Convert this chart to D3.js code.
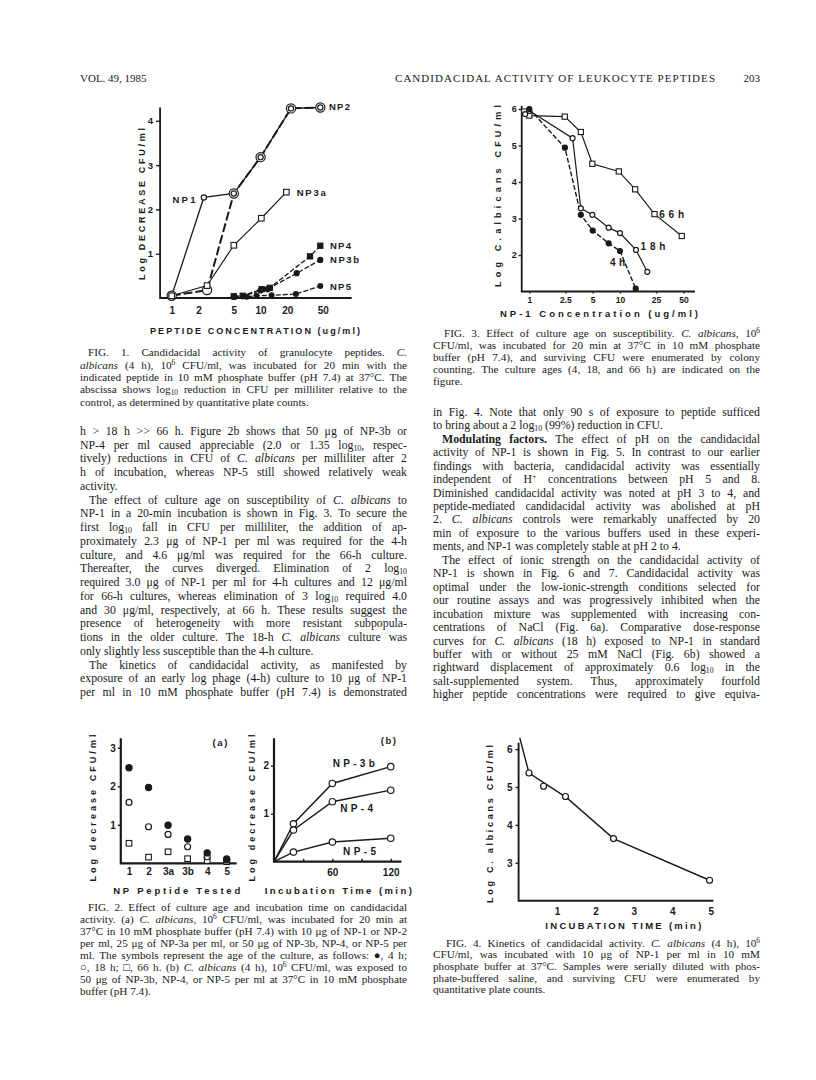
<!DOCTYPE html>
<html>
<head>
<meta charset="utf-8">
<script src="https://cdn.jsdelivr.net/npm/d3@7"></script>
<style>
  body { margin: 0; background: #fff; }
  svg text { fill: #1a1a1a; }
  .serif { font-family: "Liberation Serif", "Times New Roman", serif; }
  .sans { font-family: "Liberation Sans", Arial, sans-serif; font-weight: bold; }
</style>
</head>
<body>
<svg id="page" width="816" height="1080"></svg>
<script>
// ---------------- DATA ----------------
// Fig 1: log decrease vs peptide concentration (ug/ml)
const fig1XTicks = [1, 2, 5, 10, 20, 50];
const fig1YTicks = [1, 2, 3, 4];
const np1 = [[1, 0.05], [2.3, 2.27], [5, 2.36], [10, 3.18], [22, 4.28], [47, 4.3]];
const np2 = [[1, 0.05], [2.5, 0.18], [5, 2.36], [10, 3.18], [22, 4.28], [47, 4.3]];
const np3a = [[1, 0.05], [2.5, 0.28], [5, 1.19], [10.2, 1.8], [19.5, 2.39]];
const np4 = [[5, 0.04], [6.3, 0.05], [10.3, 0.2], [12.7, 0.23], [36, 0.94], [47, 1.18]];
const np3b = [[5, 0.03], [6.3, 0.04], [10, 0.17], [12, 0.2], [25.5, 0.56], [47, 0.86]];
const np5 = [[5, 0.02], [7, 0.03], [9, 0.05], [13.3, 0.06], [25, 0.09], [47, 0.27]];

// Fig 3: log C. albicans CFU/ml vs NP-1 concentration
const fig3XTicks = [1, 2.5, 5, 10, 25, 50];
const fig3YTicks = [2, 3, 4, 5, 6];
const h66 = [[0.88, 5.93], [1, 5.82], [2.46, 5.79], [3.7, 5.37], [4.95, 4.5], [9.7, 4.29], [14.7, 3.8], [24, 3.12], [48, 2.52]];
const h18 = [[0.9, 5.86], [1, 5.95], [3.0, 5.2], [3.7, 3.28], [4.95, 3.1], [7.5, 2.75], [10, 2.6], [15, 2.14], [20, 1.54]];
const h4 = [[1, 6.0], [2.47, 4.94], [3.7, 3.1], [5, 2.67], [7.5, 2.32], [10, 2.11], [14.9, 1.08]];

// Fig 2a: log decrease per peptide, by culture age
const npCats = ['1', '2', '3a', '3b', '4', '5'];
const age4h = [2.48, 1.97, 0.99, 0.63, 0.27, 0.11];
const age18h = [1.58, 0.95, 0.75, 0.43, 0.17, 0.08];
const age66h = [0.52, 0.16, 0.3, 0.12, 0.07, 0.04];
const fig2aYTicks = [1, 2, 3];

// Fig 2b: log decrease vs incubation time (min)
const fig2bXTicks = [30, 60, 90, 120];
const fig2bXLabels = [60, 120];
const fig2bYTicks = [1, 2];
const time3b = [[0, 0], [20, 0.79], [60, 1.63], [120, 1.98]];
const time4 = [[0, 0], [20, 0.66], [60, 1.25], [120, 1.49]];
const time5 = [[0, 0], [20, 0.2], [60, 0.41], [120, 0.49]];

// Fig 4: kinetics, log CFU vs incubation time (min)
const fig4XTicks = [1, 2, 3, 4, 5];
const fig4YTicks = [3, 4, 5, 6];
const killPts = [[0.27, 5.37], [0.65, 5.02], [1.22, 4.75], [2.47, 3.64], [4.97, 2.54]];
const killCurve = [[0.03, 6.3], [0.27, 5.37], [1.25, 4.72], [2.47, 3.64], [4.97, 2.54]];

// ---------------- TEXT ----------------
const fig1Caption = [
  ">FIG. 1. Candidacidal activity of granulocyte peptides. ~C.~",
  "~albicans~ (4 h), 10^{6} CFU/ml, was incubated for 20 min with the",
  "indicated peptide in 10 mM phosphate buffer (pH 7.4) at 37°C. The",
  "abscissa shows log_{10} reduction in CFU per milliliter relative to the",
  "control, as determined by quantitative plate counts.¶"
];
const leftBody = [
  "h > 18 h >> 66 h. Figure 2b shows that 50 μg of NP-3b or",
  "NP-4 per ml caused appreciable (2.0 or 1.35 log_{10}, respec-",
  "tively) reductions in CFU of ~C.~ ~albicans~ per milliliter after 2",
  "h of incubation, whereas NP-5 still showed relatively weak",
  "activity.¶",
  ">The effect of culture age on susceptibility of ~C.~ ~albicans~ to",
  "NP-1 in a 20-min incubation is shown in Fig. 3. To secure the",
  "first log_{10} fall in CFU per milliliter, the addition of ap-",
  "proximately 2.3 μg of NP-1 per ml was required for the 4-h",
  "culture, and 4.6 μg/ml was required for the 66-h culture.",
  "Thereafter, the curves diverged. Elimination of 2 log_{10}",
  "required 3.0 μg of NP-1 per ml for 4-h cultures and 12 μg/ml",
  "for 66-h cultures, whereas elimination of 3 log_{10} required 4.0",
  "and 30 μg/ml, respectively, at 66 h. These results suggest the",
  "presence of heterogeneity with more resistant subpopula-",
  "tions in the older culture. The 18-h ~C.~ ~albicans~ culture was",
  "only slightly less susceptible than the 4-h culture.¶",
  ">The kinetics of candidacidal activity, as manifested by",
  "exposure of an early log phage (4-h) culture to 10 μg of NP-1",
  "per ml in 10 mM phosphate buffer (pH 7.4) is demonstrated"
];
const fig3Caption = [
  ">FIG. 3. Effect of culture age on susceptibility. ~C.~ ~albicans~, 10^{6}",
  "CFU/ml, was incubated for 20 min at 37°C in 10 mM phosphate",
  "buffer (pH 7.4), and surviving CFU were enumerated by colony",
  "counting. The culture ages (4, 18, and 66 h) are indicated on the",
  "figure.¶"
];
const rightBody = [
  "in Fig. 4. Note that only 90 s of exposure to peptide sufficed",
  "to bring about a 2 log_{10} (99%) reduction in CFU.¶",
  ">*Modulating factors.* The effect of pH on the candidacidal",
  "activity of NP-1 is shown in Fig. 5. In contrast to our earlier",
  "findings with bacteria, candidacidal activity was essentially",
  "independent of H^{+} concentrations between pH 5 and 8.",
  "Diminished candidacidal activity was noted at pH 3 to 4, and",
  "peptide-mediated candidacidal activity was abolished at pH",
  "2. ~C.~ ~albicans~ controls were remarkably unaffected by 20",
  "min of exposure to the various buffers used in these experi-",
  "ments, and NP-1 was completely stable at pH 2 to 4.¶",
  ">The effect of ionic strength on the candidacidal activity of",
  "NP-1 is shown in Fig. 6 and 7. Candidacidal activity was",
  "optimal under the low-ionic-strength conditions selected for",
  "our routine assays and was progressively inhibited when the",
  "incubation mixture was supplemented with increasing con-",
  "centrations of NaCl (Fig. 6a). Comparative dose-response",
  "curves for ~C.~ ~albicans~ (18 h) exposed to NP-1 in standard",
  "buffer with or without 25 mM NaCl (Fig. 6b) showed a",
  "rightward displacement of approximately 0.6 log_{10} in the",
  "salt-supplemented system. Thus, approximately fourfold",
  "higher peptide concentrations were required to give equiva-"
];
const fig2Caption = [
  ">FIG. 2. Effect of culture age and incubation time on candidacidal",
  "activity. (a) ~C.~ ~albicans~, 10^{6} CFU/ml, was incubated for 20 min at",
  "37°C in 10 mM phosphate buffer (pH 7.4) with 10 μg of NP-1 or NP-2",
  "per ml, 25 μg of NP-3a per ml, or 50 μg of NP-3b, NP-4, or NP-5 per",
  "ml. The symbols represent the age of the culture, as follows: ●, 4 h;",
  "○, 18 h; □, 66 h. (b) ~C.~ ~albicans~ (4 h), 10^{6} CFU/ml, was exposed to",
  "50 μg of NP-3b, NP-4, or NP-5 per ml at 37°C in 10 mM phosphate",
  "buffer (pH 7.4).¶"
];
const fig4Caption = [
  ">FIG. 4. Kinetics of candidacidal activity. ~C.~ ~albicans~ (4 h), 10^{6}",
  "CFU/ml, was incubated with 10 μg of NP-1 per ml in 10 mM",
  "phosphate buffer at 37°C. Samples were serially diluted with phos-",
  "phate-buffered saline, and surviving CFU were enumerated by",
  "quantitative plate counts.¶"
];

// ---------------- DRAWING ----------------
const ink = '#1a1a1a';
const svg = d3.select('#page');
svg.append('rect').attr('width', 816).attr('height', 1080).attr('fill', '#fff');
const intFmt = d3.format('d');

// one word -> one <text>, with italic (~), bold (*), sub _{..}, sup ^{..}
function fillWord(t, w, st) {
  const parts = w.split(/(~|\*|_\{[^}]*\}|\^\{[^}]*\})/).filter(p => p !== '');
  let off = 0;
  parts.forEach(p => {
    if (p === '~') { st.it = !st.it; return; }
    if (p === '*') { st.bd = !st.bd; return; }
    let txt = p, shift = 0, small = false;
    if (p.startsWith('_{')) { txt = p.slice(2, -1); shift = 2; small = true; }
    else if (p.startsWith('^{')) { txt = p.slice(2, -1); shift = -4; small = true; }
    t.append('tspan').text(txt)
      .attr('dy', shift - off)
      .attr('font-style', st.it ? 'italic' : null)
      .attr('font-weight', st.bd ? 'bold' : null)
      .attr('font-size', small ? '0.66em' : null);
    off = shift;
  });
}

function textBlock(lines, cfg) {
  const g = svg.append('g').attr('class', 'serif');
  const st = {it: false, bd: false};
  const minGap = 2;
  lines.forEach((raw, i) => {
    let s = raw, indent = 0, just = true;
    if (s.startsWith('>')) { indent = cfg.indent; s = s.slice(1); }
    if (s.endsWith('¶')) { just = false; s = s.slice(0, -1); }
    const words = s.split(' ');
    const y = cfg.y0 + i * cfg.lh + cfg.size * 0.33;
    const left = cfg.x0 + indent, avail = cfg.x1 - left;
    const st0 = {it: st.it, bd: st.bd};
    const build = size => {
      g.selectAll('.ln' + i).remove();
      st.it = st0.it; st.bd = st0.bd;
      return words.map(w => {
        const t = g.append('text').attr('class', 'ln' + i).attr('y', y).attr('font-size', size);
        fillWord(t, w, st);
        return t;
      });
    };
    let nodes = build(cfg.size);
    let widths = nodes.map(n => n.node().getComputedTextLength());
    const need = d3.sum(widths) + minGap * (words.length - 1);
    if (need > avail) {
      // line too long for the column: shrink it a touch
      nodes = build(cfg.size * (avail - minGap * (words.length - 1)) / d3.sum(widths));
      widths = nodes.map(n => n.node().getComputedTextLength());
    }
    let gap = cfg.size * 0.25;
    if (just && words.length > 1) gap = (avail - d3.sum(widths)) / (words.length - 1);
    let x = left;
    nodes.forEach((n, k) => { n.attr('x', x); x += widths[k] + gap; });
  });
}

function label(x, y, txt, size, len, rot, anchor) {
  const t = svg.append('text').attr('class', 'sans')
    .attr('font-size', size).attr('text-anchor', anchor || 'middle')
    .attr('dy', '0.35em').text(txt);
  if (len) t.attr('textLength', len).attr('lengthAdjust', 'spacing');
  if (rot) t.attr('transform', `translate(${x},${y}) rotate(-90)`);
  else t.attr('x', x).attr('y', y);
  return t;
}

function frame(x0, yTop, yBot, xRight, w) {
  svg.append('path')
    .attr('d', `M${x0},${yTop}L${x0},${yBot}L${xRight},${yBot}`)
    .attr('fill', 'none').attr('stroke', ink).attr('stroke-width', w);
}

function styleAxis(g, size) {
  g.attr('font-family', '"Liberation Sans", Arial, sans-serif')
    .attr('font-size', size).attr('font-weight', 'bold');
  g.select('.domain').remove();
  g.selectAll('line').attr('stroke', ink).attr('stroke-width', 1.4);
  g.selectAll('text').attr('fill', ink);
}

function series(pts, sx, sy, opt) {
  const line = d3.line().x(d => sx(d[0])).y(d => sy(d[1]));
  svg.append('path').datum(pts).attr('d', line)
    .attr('fill', 'none').attr('stroke', ink)
    .attr('stroke-width', opt.w || 1.3)
    .attr('stroke-dasharray', opt.dash || null);
}

function marks(pts, sx, sy, kind, size) {
  const filled = kind.endsWith('fill');
  const g = svg.append('g');
  if (kind.startsWith('circle')) {
    g.selectAll('circle').data(pts).join('circle')
      .attr('cx', d => sx(d[0])).attr('cy', d => sy(d[1])).attr('r', size)
      .attr('fill', filled ? ink : '#fff').attr('stroke', ink).attr('stroke-width', 1.2);
  } else {
    g.selectAll('rect').data(pts).join('rect')
      .attr('x', d => sx(d[0]) - size).attr('y', d => sy(d[1]) - size)
      .attr('width', size * 2).attr('height', size * 2)
      .attr('fill', filled ? ink : '#fff').attr('stroke', ink).attr('stroke-width', 1.1);
  }
}

// ---- header ----
svg.append('text').attr('class', 'serif').attr('x', 80).attr('y', 82).attr('font-size', 11).text('VOL. 49, 1985');
svg.append('text').attr('class', 'serif').attr('x', 395).attr('y', 82).attr('font-size', 11)
  .attr('textLength', 320).attr('lengthAdjust', 'spacing').text('CANDIDACIDAL ACTIVITY OF LEUKOCYTE PEPTIDES');
svg.append('text').attr('class', 'serif').attr('x', 760).attr('y', 82).attr('font-size', 11)
  .attr('text-anchor', 'end').text('203');

// ---- Fig 1 ----
const f1x = d3.scaleLog().domain([1, 50]).range([171.7, 322.7]);
const f1y = d3.scaleLinear().domain([0, 4]).range([298, 120.8]);
frame(f1x(0.74), f1y(4.3), f1y(0), f1x(106), 1.8);
styleAxis(svg.append('g').attr('transform', `translate(${f1x(0.74)},0)`)
  .call(d3.axisLeft(f1y).tickValues(fig1YTicks).tickFormat(intFmt).tickSize(4).tickPadding(3)), 9.5);
styleAxis(svg.append('g').attr('transform', `translate(0,${f1y(0)})`)
  .call(d3.axisBottom(f1x).tickValues(fig1XTicks).tickFormat(intFmt).tickSize(0).tickPadding(9)), 10);

series(np3a, f1x, f1y, {w: 1.2});
series(np1, f1x, f1y, {w: 1.3});
series(np2, f1x, f1y, {w: 2, dash: '9,3'});
series(np4, f1x, f1y, {w: 1.3, dash: '5,2'});
series(np3b, f1x, f1y, {w: 1.3, dash: '5,2'});
series(np5, f1x, f1y, {w: 1.3, dash: '5,2'});
marks(np2, f1x, f1y, 'circle-open', 4.6);
marks(np1, f1x, f1y, 'circle-open', 2.6);
marks(np3a, f1x, f1y, 'square-open', 2.8);
marks(np4, f1x, f1y, 'square-fill', 2.6);
marks(np3b, f1x, f1y, 'circle-fill', 2.5);
marks(np5, f1x, f1y, 'circle-fill', 2.4);

label(f1x(58.8), f1y(4.31), 'NP2', 9.5, 21, false, 'start');
label(f1x(1.375), f1y(2.23), 'NP1', 9.5, 23);
label(f1x(25.5), f1y(2.38), 'NP3a', 9.5, 29, false, 'start');
label(f1x(60.4), f1y(1.17), 'NP4', 9.5, 21, false, 'start');
label(f1x(60.4), f1y(0.86), 'NP3b', 9.5, 29, false, 'start');
label(f1x(60.4), f1y(0.25), 'NP5', 9.5, 21, false, 'start');
label(142, 204, 'Log DECREASE CFU/ml', 9, 152, true);
label(255, 331, 'PEPTIDE CONCENTRATION (ug/ml)', 9, 210);

textBlock(fig1Caption, {x0: 80, x1: 407, y0: 352.5, lh: 12.4, size: 11.2, indent: 8});
textBlock(leftBody, {x0: 80, x1: 407, y0: 431, lh: 13.75, size: 11.8, indent: 9});

// ---- Fig 3 ----
const f3x = d3.scaleLog().domain([1, 50]).range([529.3, 683.4]);
const f3y = d3.scaleLinear().domain([1, 6]).range([291.5, 109]);
frame(f3x(0.825), f3y(6.08), f3y(1), f3x(67), 1.8);
styleAxis(svg.append('g').attr('transform', `translate(${f3x(0.825)},0)`)
  .call(d3.axisLeft(f3y).tickValues(fig3YTicks).tickFormat(intFmt).tickSize(3).tickPadding(2)), 9);
styleAxis(svg.append('g').attr('transform', `translate(0,${f3y(1)})`)
  .call(d3.axisBottom(f3x).tickValues(fig3XTicks).tickFormat(d => d).tickSize(2).tickPadding(3)), 8.5);

series(h66, f3x, f3y, {w: 1.2});
series(h18, f3x, f3y, {w: 1.2});
series(h4, f3x, f3y, {w: 1.4, dash: '5,2'});
marks(h66, f3x, f3y, 'square-open', 2.6);
marks(h18, f3x, f3y, 'circle-open', 2.5);
marks(h4, f3x, f3y, 'circle-fill', 2.5);
label(f3x(27), f3y(3.12), '66h', 10, 25, false, 'start');
label(f3x(16.8), f3y(2.23), '18h', 10, 25, false, 'start');
label(f3x(7.76), f3y(1.8), '4h', 10, 15, false, 'start');
label(498, 196, 'Log C.albicans CFU/ml', 9, 182, true);
label(599, 313.5, 'NP-1 Concentration (ug/ml)', 9.5, 198);

textBlock(fig3Caption, {x0: 433, x1: 760, y0: 333, lh: 12.2, size: 11.2, indent: 11});
textBlock(rightBody, {x0: 433, x1: 760, y0: 412, lh: 13.45, size: 11.8, indent: 9});

// ---- Fig 2a ----
const f2ax = d3.scalePoint().domain(npCats).range([129, 226.7]);
const f2ay = d3.scaleLinear().domain([0, 3]).range([863.3, 747.8]);
const f2aLeft = f2ax(npCats[0]) - f2ax.step() * 0.42;
frame(f2aLeft, f2ay(3.25), f2ay(0), f2ax(npCats[5]) + f2ax.step() * 0.51, 2.2);
styleAxis(svg.append('g').attr('transform', `translate(${f2aLeft},0)`)
  .call(d3.axisLeft(f2ay).tickValues(fig2aYTicks).tickFormat(intFmt).tickSize(3).tickPadding(2)), 10);
styleAxis(svg.append('g').attr('transform', `translate(0,${f2ay(0)})`)
  .call(d3.axisBottom(f2ax).tickSize(0).tickPadding(5)), 10);
const pair = arr => npCats.map((c, i) => [c, arr[i]]);
marks(pair(age66h), f2ax, f2ay, 'square-open', 2.8);
marks(pair(age18h), f2ax, f2ay, 'circle-open', 3);
marks(pair(age4h), f2ax, f2ay, 'circle-fill', 3.1);
label(220, 742.5, '(a)', 9.5, 15);
label(93, 808, 'Log decrease CFU/ml', 9, 147, true);
label(176.7, 891, 'NP Peptide Tested', 9.5, 127);

// ---- Fig 2b ----
const f2bx = d3.scaleLinear().domain([0, 120]).range([274, 390.7]);
const f2by = d3.scaleLinear().domain([0, 2]).range([861.7, 765.7]);
frame(f2bx(0), f2by(2.57), f2by(0), f2bx(131), 2.2);
styleAxis(svg.append('g').attr('transform', `translate(${f2bx(0)},0)`)
  .call(d3.axisLeft(f2by).tickValues(fig2bYTicks).tickFormat(intFmt).tickSize(3).tickPadding(2)), 10);
styleAxis(svg.append('g').attr('transform', `translate(0,${f2by(0)})`)
  .call(d3.axisBottom(f2bx).tickValues(fig2bXTicks)
    .tickFormat(d => fig2bXLabels.includes(d) ? d : '').tickSize(-3).tickPadding(7)), 10);
series(time3b, f2bx, f2by, {w: 1.4});
series(time4, f2bx, f2by, {w: 1.4});
series(time5, f2bx, f2by, {w: 1.4});
marks(time3b.slice(1), f2bx, f2by, 'circle-open', 3.2);
marks(time4.slice(1), f2bx, f2by, 'circle-open', 3.2);
marks(time5.slice(1), f2bx, f2by, 'circle-open', 3.2);
label(f2bx(82), f2by(2.05), 'NP-3b', 10, 42);
label(f2bx(85), f2by(1.1), 'NP-4', 10, 33);
label(f2bx(88), f2by(0.21), 'NP-5', 10, 33);
label(388.3, 741, '(b)', 9.5, 15);
label(251.7, 808, 'Log decrease CFU/ml', 9, 147, true);
label(338.3, 891, 'Incubation Time (min)', 9.5, 147);

textBlock(fig2Caption, {x0: 80, x1: 407, y0: 907, lh: 12, size: 11.2, indent: 8});

// ---- Fig 4 ----
const f4x = d3.scaleLinear().domain([0, 5]).range([518.6, 710.7]);
const f4y = d3.scaleLinear().domain([2, 6]).range([900.7, 749.1]);
frame(f4x(0), f4y(6.17), f4y(2), f4x(5.07), 1.9);
styleAxis(svg.append('g').attr('transform', `translate(${f4x(0)},0)`)
  .call(d3.axisLeft(f4y).tickValues(fig4YTicks).tickFormat(intFmt).tickSize(3).tickPadding(3)), 10);
styleAxis(svg.append('g').attr('transform', `translate(0,${f4y(2)})`)
  .call(d3.axisBottom(f4x).tickValues(fig4XTicks).tickFormat(intFmt).tickSize(0).tickPadding(7)), 10);
series(killCurve, f4x, f4y, {w: 1.4});
marks(killPts, f4x, f4y, 'circle-open', 3);
label(490, 824, 'Log C. albicans CFU/ml', 9, 158, true);
label(623.3, 925.5, 'INCUBATION TIME (min)', 9.5, 156);

textBlock(fig4Caption, {x0: 433, x1: 760, y0: 943, lh: 11.7, size: 11.2, indent: 13});
</script>
</body>
</html>
